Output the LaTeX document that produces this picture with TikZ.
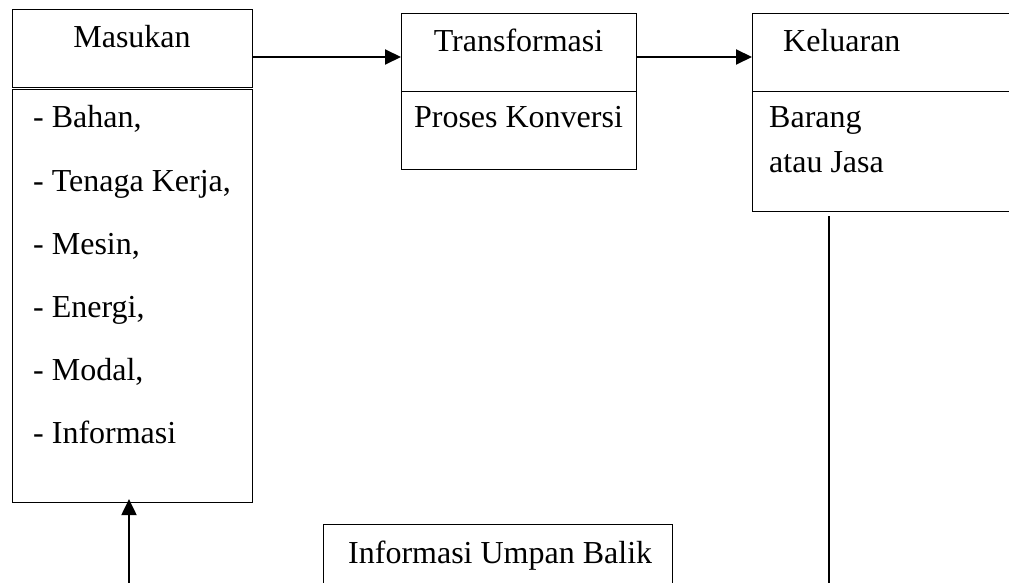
\documentclass[tikz,border=0pt]{standalone}
\usepackage{fontspec}
\setmainfont{Liberation Serif}
\usetikzlibrary{arrows.meta}
\begin{document}
\begin{tikzpicture}[x=1pt,y=-1pt,
  box/.style={draw,line width=1.1pt,rectangle,inner sep=0pt,anchor=north west},
  lbl/.style={inner sep=0pt,font=\fontsize{32}{38}\selectfont},
  flow/.style={line width=2pt,-{Triangle[length=16pt,width=15pt]}},
  plain/.style={line width=2pt}]
  \useasboundingbox (0,0) rectangle (1009,583);
  \clip (0,0) rectangle (1009,583);

  % input: header and list of resources
  \node[box,minimum width=240pt,minimum height=78pt] (masukan) at (12,9) {};
  \node[box,minimum width=240pt,minimum height=413pt] (list) at (12,89) {};
  \node[lbl,anchor=base] (tmasukan) at (132,48) {Masukan};
  \node[lbl,anchor=base west] (i1) at (33,128) {- Bahan,};
  \node[lbl,anchor=base west] (i2) at (33,191) {- Tenaga Kerja,};
  \node[lbl,anchor=base west] (i3) at (33,254) {- Mesin,};
  \node[lbl,anchor=base west] (i4) at (33,317) {- Energi,};
  \node[lbl,anchor=base west] (i5) at (33,380) {- Modal,};
  \node[lbl,anchor=base west] (i6) at (33,443) {- Informasi};

  % transformation
  \node[box,minimum width=235pt,minimum height=78pt] (trans) at (401,13) {};
  \node[box,minimum width=235pt,minimum height=78pt] (konv) at (401,91) {};
  \node[lbl,anchor=base] (ttrans) at (518.5,52) {Transformasi};
  \node[lbl,anchor=base] (tkonv) at (518.5,128) {Proses Konversi};

  % output
  \node[box,minimum width=300pt,minimum height=78pt] (kel) at (752,13) {};
  \node[box,minimum width=300pt,minimum height=120pt] (hasil) at (752,91) {};
  \node[lbl,anchor=base west] (tkel) at (783,52) {Keluaran};
  \node[lbl,anchor=base west] (th1) at (769,128) {Barang};
  \node[lbl,anchor=base west] (th2) at (769,172) {atau Jasa};

  % feedback
  \node[box,minimum width=349pt,minimum height=100pt] (umpan) at (323,524) {};
  \node[lbl,anchor=base west] (tumpan) at (348,563) {Informasi Umpan Balik};

  % connectors
  \coordinate (ya) at (0,57);
  \draw[flow] (masukan.east |- ya) -- (trans.west |- ya);
  \draw[flow] (trans.east |- ya) -- (kel.west |- ya);
  \coordinate (vout) at (829,600);
  \draw[plain] (vout) -- ([yshift=-4pt]vout |- hasil.south);
  \coordinate (vin) at (129,600);
  \draw[flow] (vin) -- ([yshift=4pt]vin |- list.south);
\end{tikzpicture}
\end{document}
